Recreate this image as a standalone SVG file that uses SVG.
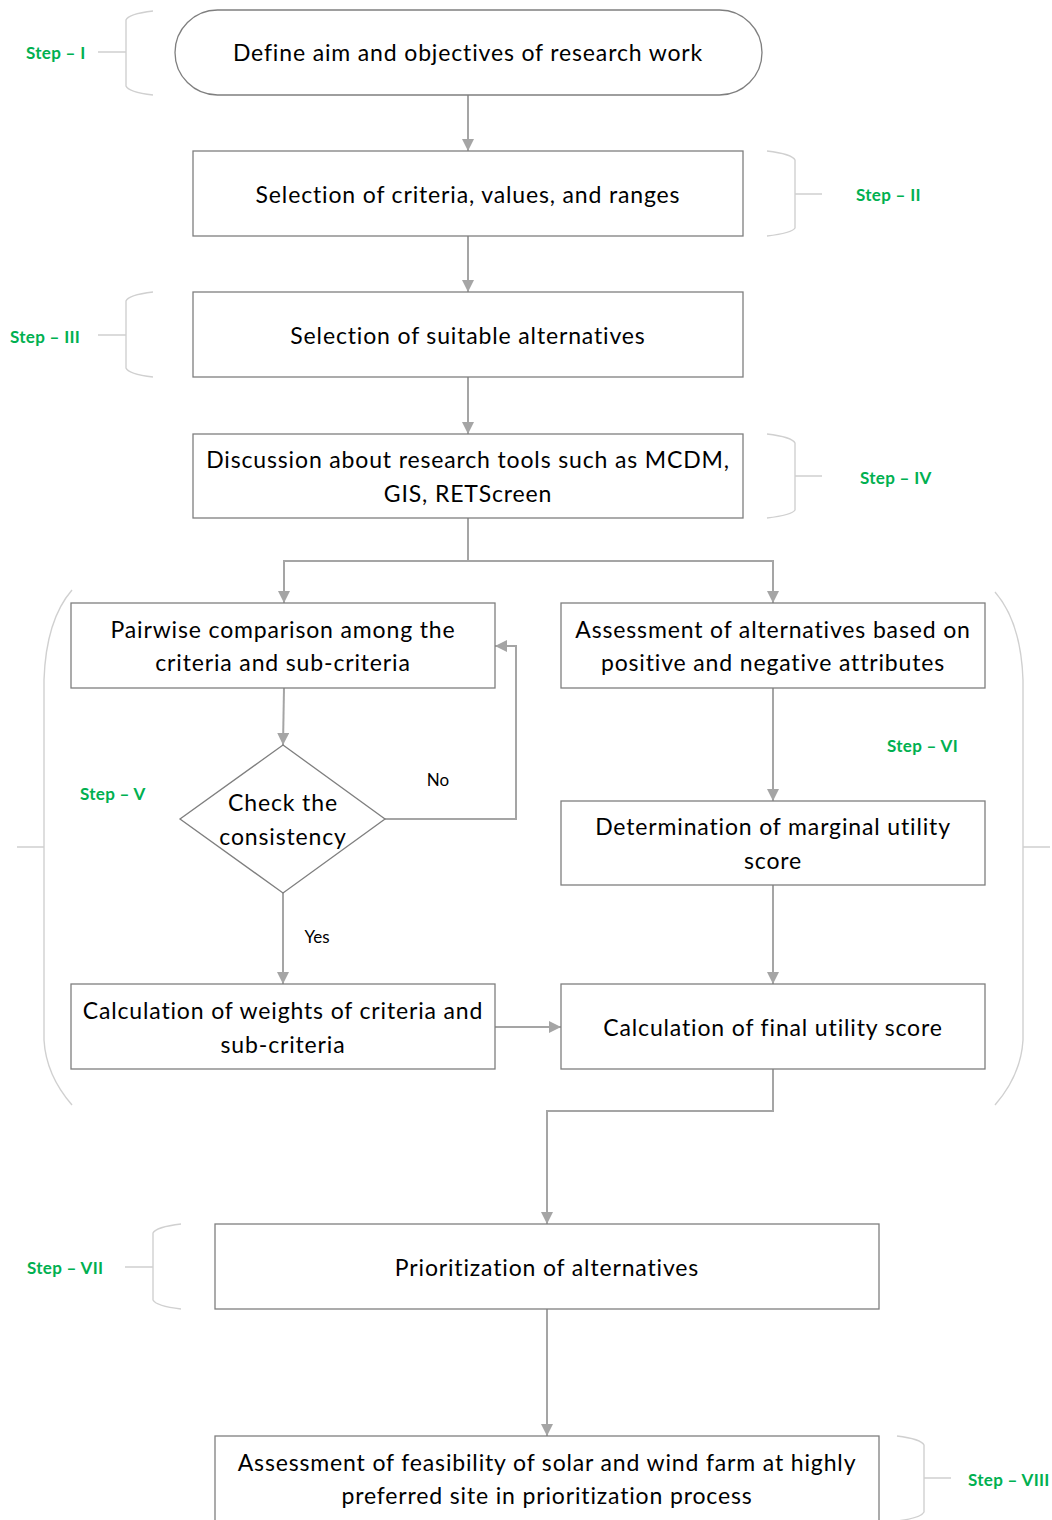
<svg xmlns="http://www.w3.org/2000/svg" width="1052" height="1520" viewBox="0 0 1052 1520">
  <defs>
    <marker id="arrow" viewBox="0 0 12 12" refX="12" refY="6" markerWidth="12" markerHeight="12" markerUnits="userSpaceOnUse" orient="auto">
      <path d="M0,0 L12,6 L0,12 Z" fill="#A5A5A5"/>
    </marker>
    <style>
      .box { fill: #FFFFFF; stroke: #7F7F7F; stroke-width: 1.3; }
      .label { font-family: Lato, "Open Sans", "Liberation Sans", sans-serif; font-size: 23px; letter-spacing: 0.85px; fill: #000000; text-anchor: middle; dominant-baseline: central; }
      .small { font-family: Lato, "Open Sans", "Liberation Sans", sans-serif; font-size: 17px; fill: #000000; text-anchor: middle; dominant-baseline: central; }
      .link { fill: none; stroke: #A5A5A5; stroke-width: 2; }
      .brace { fill: none; stroke: #D0D0D0; stroke-width: 1.4; }
      .step { font-family: Lato, "Open Sans", "Liberation Sans", sans-serif; font-size: 17px; letter-spacing: 0.3px; font-weight: bold; fill: #00B050; dominant-baseline: central; }
    </style>
  </defs>

  <rect width="1052" height="1520" fill="#FFFFFF"/>

  <!-- step braces and labels -->
  <g id="steps">
    <g id="step-1">
      <path class="brace" d="M153,11 Q128,14 126,20 L126,86 Q128,92 153,95 M98,52 L126,52"/>
      <text class="step" x="26" y="52">Step – I</text>
    </g>
    <g id="step-2">
      <path class="brace" d="M767,151 Q792,154 795,160 L795,228 Q792,233 767,236 M795,194 L822,194"/>
      <text class="step" x="856" y="194">Step – II</text>
    </g>
    <g id="step-3">
      <path class="brace" d="M153,292 Q128,295 126,301 L126,368 Q128,374 153,377 M98,335 L126,335"/>
      <text class="step" x="10" y="336">Step – III</text>
    </g>
    <g id="step-4">
      <path class="brace" d="M767,434 Q792,437 795,443 L795,510 Q792,515 767,518 M795,476 L822,476"/>
      <text class="step" x="860" y="477">Step – IV</text>
    </g>
    <g id="step-5-6">
      <path class="brace" d="M72,590 Q46,620 44,680 L44,1040 Q46,1075 72,1105 M17,847 L44,847"/>
      <path class="brace" d="M995,592 Q1021,622 1023,680 L1023,1040 Q1021,1075 995,1105 M1023,847 L1050,847"/>
      <text class="step" x="80" y="793">Step – V</text>
      <text class="step" x="887" y="745">Step – VI</text>
    </g>
    <g id="step-7">
      <path class="brace" d="M181,1224 Q156,1227 153,1233 L153,1300 Q156,1306 181,1309 M125,1267 L153,1267"/>
      <text class="step" x="27" y="1267">Step – VII</text>
    </g>
    <g id="step-8">
      <path class="brace" d="M897,1436 Q921,1439 924,1445 L924,1512 Q921,1518 897,1521 M924,1478 L951,1478"/>
      <text class="step" x="968" y="1479">Step – VIII</text>
    </g>
  </g>

  <!-- connectors -->
  <g id="connectors">
    <path class="link" marker-end="url(#arrow)" d="M468,95 L468,151"/>
    <path class="link" marker-end="url(#arrow)" d="M468,236 L468,292"/>
    <path class="link" marker-end="url(#arrow)" d="M468,377 L468,434"/>
    <path class="link" d="M468,518 L468,561"/>
    <path class="link" marker-end="url(#arrow)" d="M468,561 L284,561 L284,603"/>
    <path class="link" marker-end="url(#arrow)" d="M468,561 L773,561 L773,603"/>
    <path class="link" marker-end="url(#arrow)" d="M284,688 L283,745"/>
    <path class="link" marker-end="url(#arrow)" d="M385,819 L516,819 L516,646 L495,646"/>
    <path class="link" marker-end="url(#arrow)" d="M283,893 L283,984"/>
    <path class="link" marker-end="url(#arrow)" d="M773,688 L773,801"/>
    <path class="link" marker-end="url(#arrow)" d="M773,885 L773,984"/>
    <path class="link" marker-end="url(#arrow)" d="M495,1027 L561,1027"/>
    <path class="link" marker-end="url(#arrow)" d="M773,1069 L773,1111 L547,1111 L547,1224"/>
    <path class="link" marker-end="url(#arrow)" d="M547,1309 L547,1436"/>
    <text class="small" x="438" y="779">No</text>
    <text class="small" x="317" y="936">Yes</text>
  </g>

  <!-- process nodes -->
  <g id="define-aim">
    <rect class="box" x="175" y="10" width="587" height="85" rx="42.5"/>
    <text class="label" x="468" y="52">Define aim and objectives of research work</text>
  </g>
  <g id="select-criteria">
    <rect class="box" x="193" y="151" width="550" height="85"/>
    <text class="label" x="468" y="194">Selection of criteria, values, and ranges</text>
  </g>
  <g id="select-alternatives">
    <rect class="box" x="193" y="292" width="550" height="85"/>
    <text class="label" x="468" y="335">Selection of suitable alternatives</text>
  </g>
  <g id="research-tools">
    <rect class="box" x="193" y="434" width="550" height="84"/>
    <text class="label" x="468" y="459">Discussion about research tools such as MCDM,</text>
    <text class="label" x="468" y="493">GIS, RETScreen</text>
  </g>
  <g id="pairwise">
    <rect class="box" x="71" y="603" width="424" height="85"/>
    <text class="label" x="283" y="629">Pairwise comparison among the</text>
    <text class="label" x="283" y="662">criteria and sub-criteria</text>
  </g>
  <g id="assessment">
    <rect class="box" x="561" y="603" width="424" height="85"/>
    <text class="label" x="773" y="629">Assessment of alternatives based on</text>
    <text class="label" x="773" y="662">positive and negative attributes</text>
  </g>
  <g id="consistency">
    <path class="box" d="M283,745 L385,819 L283,893 L180,819 Z"/>
    <text class="label" x="283" y="802">Check the</text>
    <text class="label" x="283" y="836">consistency</text>
  </g>
  <g id="marginal-utility">
    <rect class="box" x="561" y="801" width="424" height="84"/>
    <text class="label" x="773" y="826">Determination of marginal utility</text>
    <text class="label" x="773" y="860">score</text>
  </g>
  <g id="weights">
    <rect class="box" x="71" y="984" width="424" height="85"/>
    <text class="label" x="283" y="1010">Calculation of weights of criteria and</text>
    <text class="label" x="283" y="1044">sub-criteria</text>
  </g>
  <g id="final-utility">
    <rect class="box" x="561" y="984" width="424" height="85"/>
    <text class="label" x="773" y="1027">Calculation of final utility score</text>
  </g>
  <g id="prioritization">
    <rect class="box" x="215" y="1224" width="664" height="85"/>
    <text class="label" x="547" y="1267">Prioritization of alternatives</text>
  </g>
  <g id="feasibility">
    <rect class="box" x="215" y="1436" width="664" height="90"/>
    <text class="label" x="547" y="1462">Assessment of feasibility of solar and wind farm at highly</text>
    <text class="label" x="547" y="1495">preferred site in prioritization process</text>
  </g>
</svg>
